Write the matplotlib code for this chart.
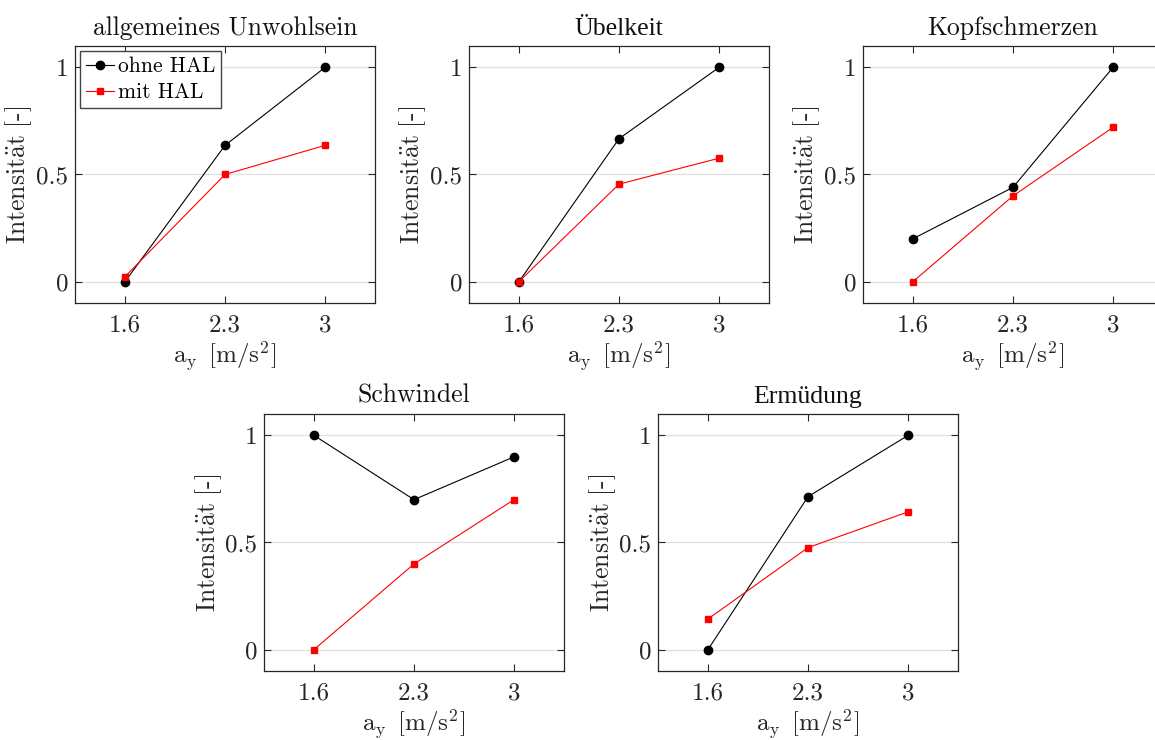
import matplotlib
matplotlib.use('Agg')
import matplotlib.pyplot as plt

plt.rcParams['font.family'] = ['cmr10', 'DejaVu Serif']
plt.rcParams['mathtext.fontset'] = 'cm'
plt.rcParams['axes.unicode_minus'] = False

# beschleunigungsstufen und symptome
ay_labels = ['1.6', '2.3', '3']
titles = ['allgemeines Unwohlsein', 'Übelkeit', 'Kopfschmerzen', 'Schwindel', 'Ermüdung']

ohne_hal = [
    [0.0, 0.636, 1.0],
    [0.0, 0.667, 1.0],
    [0.2, 0.44, 1.0],
    [1.0, 0.7, 0.9],
    [0.0, 0.714, 1.0],
]
mit_hal = [
    [0.023, 0.5, 0.636],
    [0.0, 0.455, 0.576],
    [0.0, 0.4, 0.72],
    [0.0, 0.4, 0.7],
    [0.143, 0.476, 0.643],
]

# titel mit umlaut in anderer schrift
title_fonts = ['cmr10', 'Liberation Serif', 'cmr10', 'cmr10', 'Liberation Serif']

W, H = 1155, 740
boxes = [(75, 46), (469, 46), (863, 46), (264, 414), (658, 414)]
aw, ah = 300, 257

fig = plt.figure(figsize=(W / 100, H / 100), dpi=100)
axc = '#262626'
x = [1, 2, 3]

for i, (l, t) in enumerate(boxes):
    ax = fig.add_axes([l / W, 1 - (t + ah) / H, aw / W, ah / H])
    ax.plot(x, ohne_hal[i], 'k-', marker='o', ms=6, lw=0.8, label='ohne HAL')
    ax.plot(x, mit_hal[i], '-', color='#ff0000', marker='s', ms=4.5, lw=0.8, label='mit HAL')
    ax.set_xlim(0.5, 3.5)
    ax.set_ylim(-0.1, 1.1)
    ax.set_xticks(x)
    ax.set_xticklabels(ay_labels)
    ax.set_yticks([0, 0.5, 1])
    ax.set_yticklabels(['0', '0.5', '1'])
    ax.grid(axis='y', color='#e0e0e0', lw=0.9)
    ax.set_axisbelow(True)
    ax.tick_params(direction='in', length=5, width=0.8, top=True, right=True,
                   labelsize=18, colors=axc)
    ax.tick_params(axis='x', pad=8)
    ax.tick_params(axis='y', pad=5)
    for s in ax.spines.values():
        s.set_color(axc)
        s.set_linewidth(0.9)
    ax.set_xlabel(r'$\mathrm{a_y\ \,[m/s^2]}$', fontsize=18, color=axc)
    ax.xaxis.set_label_coords(0.5, -0.14)
    ax.set_ylabel(r'$\mathrm{Intensit\ddot{a}t\ [}$-$\mathrm{]}$', fontsize=18.5,
                  color=axc)
    ax.yaxis.set_label_coords(-0.135, 0.5)
    if title_fonts[i] == 'cmr10':
        ax.set_title(titles[i], fontsize=18.5, color='#111111', pad=8)
    else:
        ax.set_title(titles[i], fontsize=18.5, color='#111111', pad=8,
                     family=title_fonts[i])
    if i == 0:
        leg = ax.legend(loc='upper left', fontsize=15.5, fancybox=False,
                        borderaxespad=0.25, handlelength=1.3, handletextpad=0.2,
                        borderpad=0.25, labelspacing=0.3, framealpha=1)
        leg.get_frame().set_edgecolor('#444444')
        leg.get_frame().set_linewidth(1.0)

fig.savefig('out.png', dpi=100)
